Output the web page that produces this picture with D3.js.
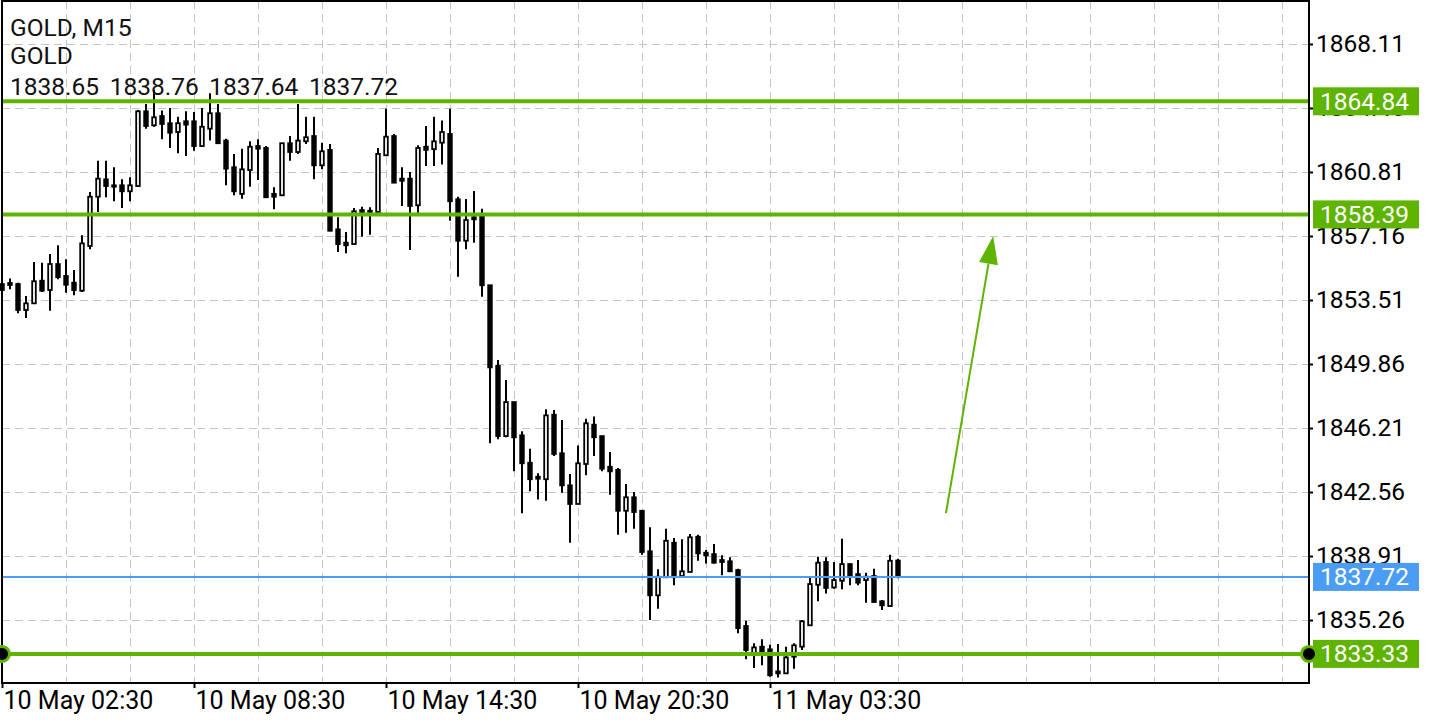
<!DOCTYPE html>
<html>
<head>
<meta charset="utf-8">
<script src="https://cdn.jsdelivr.net/npm/d3@7"></script>
<style>
  html, body { margin: 0; padding: 0; background: #ffffff; }
  svg { display: block; font-family: Roboto, "Noto Sans", sans-serif; }
</style>
</head>
<body>
<script>
// ---------- data (GOLD, M15) ----------
const symbol = "GOLD";
const timeframe = "M15";
const opens = [
1854.42,1854.48,1854.42,1852.94,1853.32,1854.61,1854.08,1855.56,1854.88,1854.50,
1854.04,1856.59,1859.40,1860.39,1860.05,1860.05,1859.71,1860.01,1864.27,1863.47,
1864.00,1863.59,1863.09,1863.70,1863.70,1862.29,1863.28,1864.16,1862.60,1861.08,
1859.56,1860.92,1862.29,1862.18,1859.56,1859.48,1862.45,1861.95,1862.56,1862.86,
1861.19,1862.07,1857.54,1856.78,1856.70,1858.64,1858.53,1858.53,1861.76,1862.86,
1860.43,1860.43,1858.91,1862.25,1862.11,1862.48,1862.98,1859.25,1856.89,1858.23,
1858.26,1854.35,1849.75,1845.75,1847.69,1845.79,1844.23,1843.43,1843.29,1846.97,
1844.77,1842.94,1841.88,1844.16,1846.40,1845.75,1844.00,1843.82,1841.49,1842.26,
1841.49,1839.18,1836.67,1837.70,1839.67,1837.77,1838.00,1840.01,1839.10,1839.02,
1838.68,1838.61,1838.11,1834.92,1833.36,1833.74,1833.59,1832.33,1832.22,1833.17,
1833.74,1834.96,1837.27,1838.57,1837.12,1837.50,1838.45,1837.88,1837.54,1837.77,
1836.33,1836.06,1838.65
];
const highs = [
1854.54,1854.73,1854.50,1853.74,1855.68,1855.64,1856.13,1856.63,1855.83,1855.22,
1857.20,1859.67,1861.45,1861.45,1861.08,1860.39,1860.51,1864.35,1864.69,1865.48,
1864.31,1864.46,1863.96,1864.27,1864.23,1864.46,1865.30,1864.69,1862.71,1861.84,
1862.14,1862.56,1862.68,1862.29,1859.94,1862.45,1862.86,1864.69,1863.96,1863.96,
1862.48,1862.41,1858.23,1857.39,1858.76,1858.83,1858.80,1862.18,1864.42,1862.98,
1861.08,1860.81,1862.33,1863.43,1863.96,1863.74,1864.42,1859.40,1859.27,1859.73,
1858.72,1854.35,1850.09,1848.95,1847.69,1846.02,1845.03,1843.63,1847.28,1847.24,
1846.67,1843.59,1845.22,1846.74,1846.86,1845.75,1844.84,1843.93,1843.02,1842.56,
1841.53,1840.55,1838.15,1840.47,1839.94,1839.86,1840.17,1840.13,1839.25,1839.59,
1838.95,1838.84,1838.19,1835.22,1833.93,1834.16,1833.85,1833.89,1833.74,1833.93,
1835.26,1837.70,1838.87,1838.84,1838.57,1839.90,1838.49,1838.68,1837.96,1838.19,
1836.40,1838.98,1838.76
];
const lows = [
1853.97,1854.12,1852.75,1852.48,1853.28,1853.97,1852.90,1854.69,1853.93,1853.78,
1853.97,1856.40,1858.53,1859.37,1859.14,1858.76,1859.14,1859.97,1863.28,1863.39,
1862.68,1862.18,1861.88,1861.72,1862.02,1862.25,1862.60,1862.45,1860.05,1859.48,
1859.29,1859.97,1860.35,1859.37,1858.68,1859.48,1861.45,1861.84,1862.41,1860.39,
1860.96,1857.43,1856.25,1856.17,1856.70,1857.12,1857.23,1858.53,1861.76,1860.20,
1858.87,1856.36,1858.49,1861.15,1861.15,1861.23,1858.03,1854.84,1856.40,1856.78,
1853.70,1845.34,1845.57,1845.68,1843.74,1841.35,1842.60,1842.14,1842.06,1844.61,
1842.52,1839.67,1841.88,1843.51,1844.61,1843.74,1842.41,1840.13,1840.24,1840.47,
1838.98,1835.26,1835.91,1837.70,1837.24,1837.73,1838.00,1838.64,1838.49,1838.49,
1837.81,1838.00,1834.50,1833.02,1832.52,1832.68,1832.03,1831.99,1832.22,1832.48,
1833.55,1834.96,1836.33,1836.78,1837.05,1837.01,1837.24,1837.24,1836.25,1836.25,
1835.83,1836.06,1837.64
];
const closes = [
1854.08,1854.37,1852.94,1853.32,1854.58,1854.04,1855.56,1854.81,1854.38,1854.08,
1856.74,1859.40,1860.43,1860.01,1859.97,1859.71,1860.05,1864.27,1863.43,1863.93,
1863.55,1863.05,1863.59,1863.51,1862.29,1863.39,1864.16,1862.45,1861.00,1859.71,
1860.96,1862.25,1862.14,1859.37,1859.40,1862.45,1861.95,1862.60,1862.79,1861.19,
1861.99,1857.46,1856.70,1856.63,1858.57,1858.53,1858.60,1861.84,1862.82,1860.20,
1860.31,1858.87,1862.18,1862.07,1862.56,1863.09,1859.14,1856.89,1858.07,1858.11,
1854.35,1849.67,1845.75,1847.69,1845.68,1844.20,1843.29,1843.32,1846.93,1844.73,
1842.94,1841.88,1844.20,1846.48,1845.68,1843.89,1843.74,1841.49,1842.26,1841.42,
1839.14,1836.67,1837.73,1839.78,1837.70,1838.04,1839.98,1839.06,1838.95,1838.53,
1838.57,1838.04,1834.80,1833.55,1833.70,1833.36,1832.11,1832.22,1833.13,1833.82,
1835.19,1837.31,1838.53,1837.09,1837.54,1838.45,1837.77,1837.39,1837.73,1836.29,
1836.10,1838.64,1837.72
];
// time axis: bar index of each label, and the label text
const timeTickBars = [0, 24, 48, 72, 96];
const timeTickLabels = ["10 May 02:30", "10 May 08:30", "10 May 14:30", "10 May 20:30", "11 May 03:30"];
// price axis
const priceTicks = [1868.11, 1864.46, 1860.81, 1857.16, 1853.51, 1849.86, 1846.21, 1842.56, 1838.91, 1835.26];
const priceMin = 1831.67, priceMax = 1870.56;
const barsVisible = 163.375;
// horizontal levels
const greenLevels = [1864.84, 1858.39, 1833.33];
const bidLevel = 1837.72;
const markedLevel = 1833.33;
// arrow: [bar index, price]
const arrowFrom = [118, 1841.36];
const arrowTo = [123.9, 1857.16];

// ---------- drawing ----------
(function () {
const W = 1440, H = 720;
const pL = 2, pR = 1309, pT = 1, pB = 683;
const GREEN = "#5eb400", BLUE = "#4a9df3";
const FS = 24.5;

const svg = d3.select("body").append("svg").attr("width", W).attr("height", H);

const x = d3.scaleLinear().domain([0, barsVisible]).range([pL, pR]);
const y = d3.scaleLinear().domain([priceMin, priceMax]).range([pB, pT]);

// grid
const grid = svg.append("g").attr("stroke", "#c4c4c4").attr("stroke-width", 1).attr("stroke-dasharray", "8,5");
grid.selectAll("line.h").data(priceTicks).join("line").attr("class", "h")
  .attr("x1", pL).attr("x2", pR).attr("y1", d => Math.round(y(d)) + 0.5).attr("y2", d => Math.round(y(d)) + 0.5);
grid.selectAll("line.v").data(d3.range(8, barsVisible, 8)).join("line").attr("class", "v")
  .attr("y1", pT).attr("y2", pB).attr("x1", d => Math.round(x(d)) + 0.5).attr("x2", d => Math.round(x(d)) + 0.5);

// candles
const idx = d3.range(opens.length);
const cg = svg.append("g");
cg.selectAll("line").data(idx).join("line")
  .attr("x1", i => x(i)).attr("x2", i => x(i))
  .attr("y1", i => y(highs[i])).attr("y2", i => y(lows[i]))
  .attr("stroke", "#000").attr("stroke-width", 2);
cg.selectAll("rect").data(idx).join("rect")
  .attr("x", i => x(i) - 1.8).attr("width", 3.6)
  .attr("y", i => y(Math.max(opens[i], closes[i])))
  .attr("height", i => Math.max(0.4, Math.abs(y(opens[i]) - y(closes[i]))))
  .attr("fill", i => closes[i] >= opens[i] ? "#fff" : "#000")
  .attr("stroke", "#000").attr("stroke-width", 1.8);

// level lines
svg.selectAll("line.lvl").data(greenLevels).join("line").attr("class", "lvl")
  .attr("x1", pL).attr("x2", pR).attr("y1", d => y(d)).attr("y2", d => y(d))
  .attr("stroke", GREEN).attr("stroke-width", 4);
svg.append("line").attr("x1", pL).attr("x2", pR).attr("y1", y(bidLevel)).attr("y2", y(bidLevel))
  .attr("stroke", BLUE).attr("stroke-width", 2);

// arrow
const ax0 = x(arrowFrom[0]), ay0 = y(arrowFrom[1]), ax1 = x(arrowTo[0]), ay1 = y(arrowTo[1]);
const ang = Math.atan2(ay1 - ay0, ax1 - ax0);
const headLen = 28, headHalf = 9.5;
const bx = ax1 - headLen * Math.cos(ang), by = ay1 - headLen * Math.sin(ang);
svg.append("line").attr("x1", ax0).attr("y1", ay0).attr("x2", bx).attr("y2", by)
  .attr("stroke", GREEN).attr("stroke-width", 2);
svg.append("polygon")
  .attr("points", [[ax1, ay1],
    [bx + headHalf * Math.sin(ang), by - headHalf * Math.cos(ang)],
    [bx - headHalf * Math.sin(ang), by + headHalf * Math.cos(ang)]].map(p => p.join(",")).join(" "))
  .attr("fill", GREEN);

// frame
svg.append("rect").attr("x", pL).attr("y", pT).attr("width", pR - pL).attr("height", pB - pT)
  .attr("fill", "none").attr("stroke", "#000").attr("stroke-width", 2);

// right price axis
const yAxis = d3.axisRight(y).tickValues(priceTicks).tickSize(4).tickPadding(3).tickFormat(d3.format(".2f"));
const yg = svg.append("g").attr("transform", `translate(${pR},0)`).call(yAxis);
yg.select(".domain").remove();
yg.selectAll(".tick line").attr("stroke", "#000").attr("stroke-width", 2);
yg.selectAll(".tick text").attr("font-size", FS).attr("font-family", "Roboto").attr("fill", "#000");

// bottom time axis
const xAxis = d3.axisBottom(x).tickValues(timeTickBars).tickSize(5).tickFormat((d, i) => timeTickLabels[i]);
const xg = svg.append("g").attr("transform", `translate(0,${pB})`).call(xAxis);
xg.select(".domain").remove();
xg.selectAll(".tick line").attr("stroke", "#000").attr("stroke-width", 2);
xg.selectAll(".tick text").attr("font-size", 25).attr("font-family", "Roboto").attr("fill", "#000")
  .attr("text-anchor", "start").attr("dx", 1).attr("y", 8);

// price labels on the right
const tags = greenLevels.map(v => ({ v, c: GREEN })).concat([{ v: bidLevel, c: BLUE }]);
const tg = svg.append("g").selectAll("g").data(tags).join("g").attr("transform", d => `translate(1313,${y(d.v)})`);
tg.append("rect").attr("x", 0).attr("y", -14).attr("width", 106).attr("height", 28).attr("fill", d => d.c);
tg.append("text").attr("x", 7).attr("y", 0).attr("dy", "0.35em").attr("font-size", FS).attr("fill", "#fff")
  .attr("font-family", "Roboto").text(d => d.v.toFixed(2));

// end markers of the lower level
svg.selectAll("circle.mk").data([pL, pR]).join("circle").attr("class", "mk")
  .attr("cx", d => d).attr("cy", y(markedLevel)).attr("r", 7.5)
  .attr("fill", "#000").attr("stroke", GREEN).attr("stroke-width", 3);

// header
const last = opens.length - 1;
const hdr = svg.append("g").attr("font-size", FS).attr("font-family", "Roboto").attr("fill", "#111");
hdr.append("text").attr("x", 10).attr("y", 36).text(`${symbol}, ${timeframe}`);
hdr.append("text").attr("x", 10).attr("y", 64).text(symbol);
hdr.append("text").attr("x", 10).attr("y", 95).attr("word-spacing", 4.5)
  .text([opens[last], highs[last], lows[last], closes[last]].map(v => v.toFixed(2)).join(" "));
})();
</script>
</body>
</html>
